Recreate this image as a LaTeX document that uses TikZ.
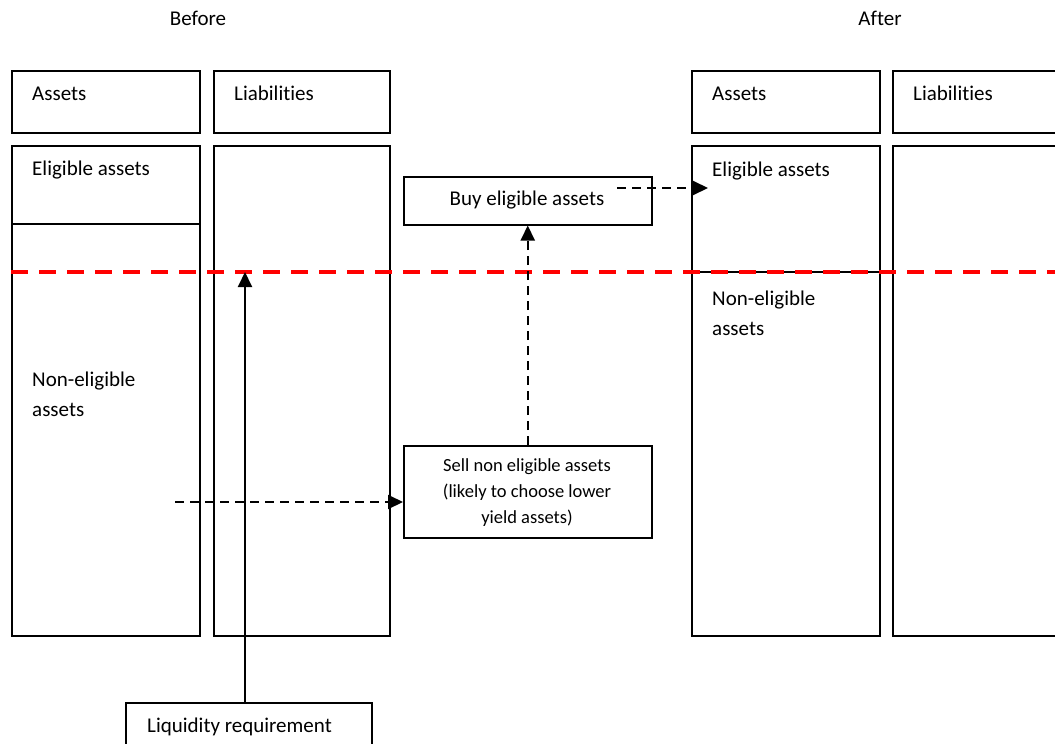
\documentclass[tikz,border=0pt]{standalone}
\usepackage{fontspec}
\setmainfont{Carlito}[Ligatures=NoCommon]
\usetikzlibrary{arrows.meta, positioning, calc}

\begin{document}
\begin{tikzpicture}[
    x=1pt, y=-1pt,
    sheet/.style={rectangle, draw, line width=1.5pt, anchor=north west, inner sep=0pt},
    lbl/.style={anchor=west, inner sep=0pt, align=left, font=\fontsize{21}{30}\selectfont},
    oneline/.style={lbl, text height=14pt, text depth=4pt},
    title/.style={inner sep=0pt, font=\fontsize{21}{24}\selectfont},
    note/.style={inner sep=0pt, align=center, font=\fontsize{18.5}{26}\selectfont},
    dasharrow/.style={-{Triangle[length=15pt,width=14pt]}, line width=2pt, dash pattern=on 9pt off 6pt},
    solidarrow/.style={-{Triangle[length=15pt,width=14pt]}, line width=2pt},
    reqline/.style={draw=red, line width=4pt, dash pattern=on 17pt off 11pt}
]
\clip (0,0) rectangle (1055,744);

% Before
\node[title] (before) at (198,18) {Before};
\node[sheet, minimum width=188, minimum height=62] (preassethead) at (11,70) {};
\node[sheet, minimum width=176, minimum height=62] (preliabhead) at (213,70) {};
\node[sheet, minimum width=188, minimum height=490] (preasset) at (11,145) {};
\node[sheet, minimum width=176, minimum height=490] (preliab) at (213,145) {};
\draw[line width=1.5pt] (11,224) -- (199,224);
\node[oneline] at (32,95) {Assets};
\node[oneline] at (234,95) {Liabilities};
\node[oneline] at (32,170) {Eligible assets};
\node[lbl] at (32,394) {Non-eligible\\assets};

% After
\node[title] (after) at (880,18) {After};
\node[sheet, minimum width=188, minimum height=62] (postassethead) at (691,70) {};
\node[sheet, minimum width=200, minimum height=62] (postliabhead) at (892,70) {};
\node[sheet, minimum width=188, minimum height=490] (postasset) at (691,145) {};
\node[sheet, minimum width=200, minimum height=490] (postliab) at (892,145) {};
\draw[line width=1.5pt] (691,272) -- (879,272);
\node[oneline] at (712,95) {Assets};
\node[oneline] at (913,95) {Liabilities};
\node[oneline] at (712,171) {Eligible assets};
\node[lbl] at (712,313) {Non-eligible\\assets};

% Liquidity requirement
\draw[reqline] (11,272) -- (1055,272);

% Transactions
\node[sheet, minimum width=248, minimum height=48] (buy) at (403,176) {};
\node[title] at (527,200) {Buy eligible assets};
\node[sheet, minimum width=248, minimum height=92] (sell) at (403,445) {};
\node[note] at (527,493) {Sell non eligible assets\\(likely to choose lower\\yield assets)};
\node[sheet, minimum width=246, minimum height=60] (liquidity) at (125,702) {};
\node[oneline] at (147,727) {Liquidity requirement};

\coordinate (sellfrom) at (175,502);
\coordinate (buyfrom) at (617,188);
\coordinate (postin) at (708,188);
\coordinate (reqtip) at (245,272);

\draw[dasharrow] (sellfrom) -- (sell.west |- sellfrom);
\draw[dasharrow] (sell.north) -- (buy.south);
\draw[dasharrow] (buyfrom) -- (postin);
\draw[solidarrow] (liquidity.north -| reqtip) -- (reqtip);

\end{tikzpicture}
\end{document}
